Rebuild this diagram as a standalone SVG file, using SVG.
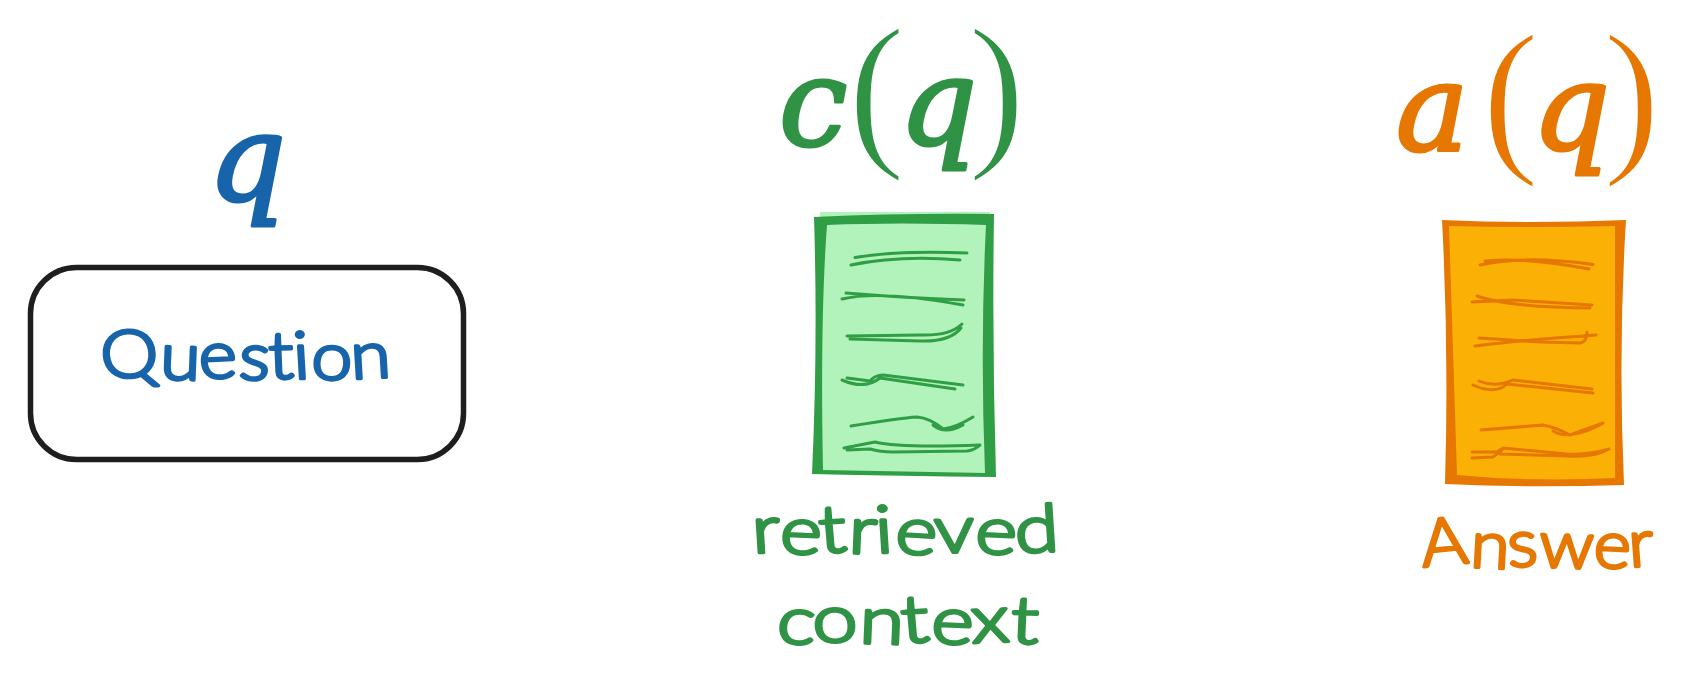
<svg xmlns="http://www.w3.org/2000/svg" width="1693" height="700" viewBox="0 0 1693 700">
<style>
.hand{font-family:"Lato","DejaVu Sans",sans-serif;font-weight:300;font-size:66px;stroke-width:3.200;stroke-linejoin:round;stroke-linecap:round;font-variant-ligatures:none}
.m{font-family:"DejaVu Serif",serif;font-style:italic;font-weight:400;font-size:122px;stroke-width:3.200;stroke-linejoin:round}
.p{font-family:"Liberation Serif",serif;font-style:normal;font-size:172px;stroke:#ffffff;stroke-width:2.500}
.blue{fill:#1864ab;stroke:#1864ab}
.green{fill:#2f9244;stroke:#2f9244}
.orange{fill:#e67700;stroke:#e67700}
.gl{fill:none;stroke:#2f9e44;stroke-width:3;stroke-linecap:round;stroke-linejoin:round}
.ol{fill:none;stroke:#e67700;stroke-width:3;stroke-linecap:round;stroke-linejoin:round}
</style>
<rect width="1693" height="700" fill="#ffffff"/>
<g id="question">
<text class="m blue" x="208" y="201">q</text>
<rect x="30.500" y="267.500" width="433" height="192" rx="46" ry="46" fill="none" stroke="#1e1e1e" stroke-width="5.500"/>
<text class="hand blue" x="102" y="379" textLength="290" lengthAdjust="spacingAndGlyphs" rotate="-4 2 -3 3 -2 -3 2 -3">Question</text>
</g>
<g id="context">
<text class="green"><tspan class="m" x="779" y="145">c</tspan><tspan class="p" x="848" y="146">(</tspan><tspan class="m" x="899" y="145">q</tspan><tspan class="p" x="968" y="146">)</tspan></text>
<path d="M820 212L990 212L993 476L815 474Z" fill="#b2f2bb"/>
<path fill-rule="evenodd" fill="#2f9e44" d="M814 217Q900 213 994 214Q992 345 996 477Q900 476 812 474Q818 345 814 217ZM827 225Q820 320 823 470L985 473Q980 345 986 225Q900 222 827 225Z"/>
<path class="gl" d="M851 265Q900 255 960 260M855 257.500Q900 250 967 253"/>
<path class="gl" d="M842 299Q880 290 963 305M846 293Q907 298 964 300"/>
<path class="gl" d="M847 336L920 335Q950 336 962 324M850 339L920 341Q950 342 961 328"/>
<path class="gl" d="M847 378L870 381Q875 375 883 375L963 385M842 380Q865 390 880 378L955 389"/>
<path class="gl" d="M851 426Q900 418 917 417Q930 418 943 429Q955 428 973 417M933 425Q945 435 963 425"/>
<path class="gl" d="M844 448Q865 444 875 442Q900 448 980 445M847 450L870 449Q880 452 893 452L967 451Q975 450 980 445"/>
<text class="hand green" x="753" y="553" textLength="307" lengthAdjust="spacingAndGlyphs" rotate="-3 3 -4 2 -3 4 -2 3 -3">retrieved</text>
<text class="hand green" x="776" y="643" textLength="262" lengthAdjust="spacingAndGlyphs" rotate="3 -3 2 -4 3 -3 2">context</text>
</g>
<g id="answer">
<text class="orange"><tspan class="m" x="1396" y="150">a</tspan><tspan class="p" x="1482" y="152">(</tspan><tspan class="m" x="1532" y="150">q</tspan><tspan class="p" x="1603" y="152">)</tspan></text>
<path d="M1446 224L1618 224L1618 482L1450 482Z" fill="#fbb005"/>
<path fill-rule="evenodd" fill="#e67700" d="M1442 220Q1530 224 1626 220Q1618 350 1624 485Q1530 488 1445 484Q1449 350 1442 220ZM1449 226Q1453 350 1457 475Q1530 482 1615 478L1615 226Q1530 228 1449 226Z"/>
<path class="ol" d="M1480 265Q1523 255 1593 264.500M1485 261Q1527 257 1589 269"/>
<path class="ol" d="M1472 302L1513 300L1592 305M1477 296Q1507 307 1590 308"/>
<path class="ol" d="M1475 346Q1523 340 1596 335M1479 338L1540 342L1580 343Q1587 342 1587 332"/>
<path class="ol" d="M1479 381Q1495 388 1513 380L1592 389M1473 385Q1495 395 1507 384L1593 393"/>
<path class="ol" d="M1481 430L1543 425Q1555 427 1570 435L1603 423M1553 431Q1568 441 1600 425"/>
<path class="ol" d="M1472 452H1497L1503 448L1567 454Q1590 455 1609 449M1472 458L1493 457L1502 450M1500 454L1567 456Q1593 458 1609 449"/>
<text class="hand orange" x="1423" y="567" textLength="232" lengthAdjust="spacingAndGlyphs" rotate="-6 3 -3 2 3 -4">Answer</text>
</g>
</svg>
